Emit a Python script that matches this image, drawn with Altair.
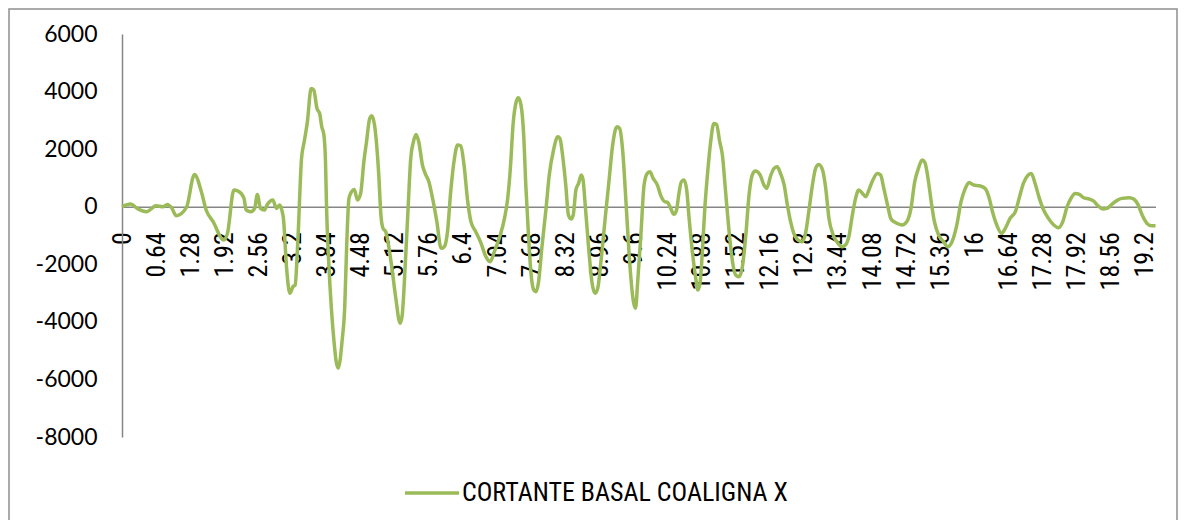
import altair as alt
import pandas as pd

# time (s) and basal shear values
t1 = [0, 0.16, 0.30, 0.46, 0.64, 0.77, 0.85, 0.93, 1.02, 1.21, 1.36, 1.49, 1.58, 1.71, 1.91, 1.98,
      2.10, 2.18, 2.29, 2.33, 2.42, 2.49, 2.54, 2.60, 2.67, 2.73, 2.83, 2.90, 2.96, 3.00, 3.03, 3.09,
      3.15, 3.21, 3.25, 3.30, 3.37, 3.42, 3.48, 3.55, 3.60, 3.66, 3.71, 3.75, 3.79, 3.82, 3.84, 3.88,
      3.93, 3.98, 4.02, 4.06, 4.09, 4.13, 4.18, 4.22, 4.26, 4.31, 4.36, 4.42, 4.48, 4.54, 4.59, 4.65,
      4.69, 4.74]
v1 = [0, 93, -81, -174, 35, 0, 81, -35, -312, -23, 1122, 521, -116, -521, -1157, -926,
      579, 544, 289, -116, -174, -58, 428, -58, -116, 81, 231, -58, 58, -116, -405, -2140,
      -3008, -2777, -2719, -1215, 1678, 2256, 2950, 4107, 4050, 3413, 3240, 2777, 2488, 1562, -58, -1909,
      -3529, -4686, -5380, -5611, -5380, -4686, -3529, -1215, 289, 521, 602, 231, 463, 1562, 2256, 3066,
      3159, 2835]

t2 = [4.82, 4.86, 4.90, 4.95, 5.05, 5.14, 5.22, 5.26, 5.32, 5.37, 5.42, 5.47, 5.52, 5.57, 5.64, 5.69,
      5.76, 5.83, 5.91, 5.99, 6.05, 6.11, 6.17, 6.24, 6.30, 6.36, 6.42, 6.49, 6.55, 6.64, 6.74, 6.83,
      6.91, 6.99, 7.08, 7.18, 7.24, 7.29, 7.34, 7.40, 7.44, 7.49, 7.54, 7.58, 7.63, 7.68, 7.73, 7.77,
      7.82, 7.88, 7.96, 8.02, 8.10, 8.18, 8.22, 8.27, 8.33, 8.38, 8.43, 8.47, 8.52, 8.57, 8.62, 8.65,
      8.70, 8.76, 8.82, 8.88, 8.93, 8.99, 9.07, 9.14, 9.21, 9.29, 9.34, 9.40, 9.46, 9.52, 9.60, 9.64]
v2 = [1099, -289, -752, -868, -1909, -3182, -4050, -3760, -1909, -58, 1678, 2256, 2511, 2256, 1446, 1157,
      868, 289, -521, -1446, -1388, -868, 521, 1678, 2140, 2117, 1446, 174, -521, -868, -1273, -1735,
      -1909, -1562, -1099, -405, 289, 1331, 2835, 3645, 3783, 3529, 2488, 752, -983, -2372, -2893, -2950,
      -2603, -1446, -58, 1099, 1967, 2430, 2372, 1793, 752, -289, -428, -289, 579, 810, 1099, 983,
      -58, -1446, -2603, -3008, -2835, -1909, -405, 868, 2140, 2777, 2719, 1909, 174, -1678, -3298, -3529]

t3 = [9.68, 9.74, 9.80, 9.86, 9.91, 9.97, 10.05, 10.11, 10.19, 10.24, 10.30, 10.36, 10.41, 10.45, 10.50,
      10.55, 10.60, 10.64, 10.70, 10.77, 10.81, 10.85, 10.89, 10.94, 11.00, 11.05, 11.11, 11.16, 11.22,
      11.27, 11.33, 11.39, 11.46, 11.52, 11.58, 11.64, 11.71, 11.77, 11.83, 11.89, 11.98, 12.05, 12.10,
      12.18, 12.24, 12.30, 12.36, 12.43, 12.49, 12.55, 12.61, 12.69, 12.77, 12.83, 12.90, 12.96, 13.02,
      13.08, 13.15, 13.21, 13.27, 13.35, 13.44, 13.52, 13.58, 13.65, 13.71, 13.77, 13.83, 13.90, 13.96,
      14.02, 14.08, 14.18, 14.24, 14.30, 14.37, 14.43, 14.49]
v3 = [-2600, -983, 752, 1157, 1215, 983, 752, 405, 174, 150, -58, -266, -116, 405, 868,
      926, 579, -289, -1446, -2488, -2893, -2661, -1678, -58, 1331, 2256, 2893, 2858, 2256,
      1793, 521, -752, -1909, -2372, -2430, -2140, -983, 405, 1099, 1238, 1099, 752, 636,
      1099, 1331, 1388, 1157, 752, 58, -521, -926, -1157, -1215, -926, -58, 752, 1331,
      1469, 1273, 636, -405, -983, -1273, -1388, -1331, -983, -289, 289, 579, 463, 347,
      579, 868, 1157, 1099, 636, 58, -405, -521]

t4 = [14.55, 14.64, 14.73, 14.81, 14.88, 14.95, 15.02, 15.07, 15.13, 15.19, 15.25, 15.33, 15.42, 15.50,
      15.58, 15.67, 15.75, 15.83, 15.90, 15.99, 16.09, 16.20, 16.28, 16.34, 16.42, 16.51, 16.58, 16.67,
      16.77, 16.84, 16.92, 17.01, 17.07, 17.13, 17.22, 17.30, 17.39, 17.49, 17.58, 17.66, 17.74, 17.82,
      17.89, 17.97, 18.05, 18.16, 18.24, 18.32, 18.41, 18.49, 18.58, 18.68, 18.77, 18.91, 18.99, 19.07,
      19.15, 19.24, 19.33, 19.40]
v4 = [-579, -636, -521, -58, 868, 1331, 1620, 1539, 983, 174, -521, -983, -1215, -1388,
      -1215, -636, 174, 636, 845, 752, 729, 636, 289, -174, -636, -926, -752, -405,
      -174, 289, 810, 1099, 1157, 868, 289, -116, -405, -636, -729, -521, 0, 312,
      463, 428, 312, 266, 197, 35, -81, -58, 81, 220, 289, 312, 266, 81,
      -289, -579, -660, -660]

x_ticks = [round(i * 0.64, 2) for i in range(31)]
y_ticks = [-8000, -6000, -4000, -2000, 0, 2000, 4000, 6000]
series_name = "CORTANTE BASAL COALIGNA X"

df = pd.DataFrame({
    "t": t1 + t2 + t3 + t4,
    "v": v1 + v2 + v3 + v4,
})
df["serie"] = series_name

W, H = 1170, 512
NARROW = "Liberation Sans Narrow, Arial Narrow, Roboto Condensed, Liberation Sans, sans-serif"
Y0 = 198.7  # svg y of value 0

line = alt.Chart(df).mark_line(strokeWidth=3.5, interpolate="monotone").encode(
    x=alt.X("t:Q",
            scale=alt.Scale(domain=[0, 19.4], range=[114, 1147.5], nice=False, zero=False),
            axis=alt.Axis(values=x_ticks, labelExpr="'' + datum.value", labelAngle=270,
                          labelFont=NARROW, labelFontSize=26, labelColor="#000000",
                          labelPadding=25, ticks=False, grid=False, title=None,
                          domainColor="#868686", domainWidth=1.5,
                          offset=-(H - Y0), labelOverlap=False, labelBound=False,
                          labelFlush=False)),
    y=alt.Y("v:Q",
            scale=alt.Scale(domain=[-8000, 6000], range=[429, 26], nice=False, zero=False),
            axis=alt.Axis(values=y_ticks, labelExpr="'' + datum.value",
                          labelFont="Lato", labelFontSize=23, labelColor="#000000",
                          labelPadding=25, ticks=False, grid=False, title=None,
                          domainColor="#868686", domainWidth=1.5, offset=-114,
                          labelOverlap=False, labelBound=False, labelFlush=False)),
    color=alt.Color("serie:N",
                    scale=alt.Scale(domain=[series_name], range=["#9BBB59"]),
                    legend=alt.Legend(title=None, orient="none", legendX=395, legendY=456,
                                      direction="horizontal", symbolType="stroke",
                                      symbolSize=2916, symbolStrokeWidth=3.5,
                                      labelFont=NARROW, labelFontSize=26, labelLimit=0,
                                      labelColor="#000000", labelOffset=1, padding=0)),
)

frame = alt.Chart(alt.Data(values=[{}])).mark_rect(
    fill="transparent", stroke="#8E8E8E", strokeWidth=1.5
).encode(
    x=alt.value(1), x2=alt.value(W - 1), y=alt.value(1), y2=alt.value(H + 40)
)

chart = alt.layer(frame, line).properties(
    width=W, height=H,
    autosize=alt.AutoSizeParams(type="none"),
    padding=0,
    background="white",
).configure_view(strokeWidth=0)

chart.save("out.html", embed_options={"renderer": "svg", "actions": False})
